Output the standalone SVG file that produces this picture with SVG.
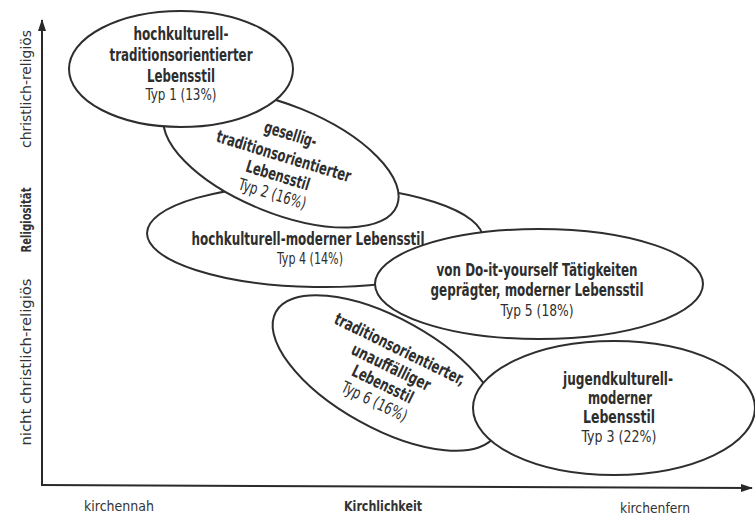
<svg xmlns="http://www.w3.org/2000/svg" width="755" height="517" viewBox="0 0 755 517">
<defs>
<marker id="arr" markerUnits="userSpaceOnUse" markerWidth="12" markerHeight="8" refX="11" refY="4" orient="auto">
<path d="M0,0 L12,4 L0,8 z" fill="#2a2a2a"/>
</marker>
<style>
.e{fill:#fff;stroke:#2e2e2e;stroke-width:2}
.t{font-family:"Liberation Sans Narrow","DejaVu Sans Condensed","Liberation Sans",Arial,sans-serif;fill:#2e2e2e;text-anchor:middle}
.b{font-weight:bold;font-size:17px}
.r{font-weight:normal;font-size:16.5px}
.ax{font-family:"Liberation Sans Narrow","DejaVu Sans Condensed","Liberation Sans",Arial,sans-serif;fill:#333;font-size:14px;text-anchor:middle}
.axl{fill:none;stroke:#2a2a2a;stroke-width:2}
</style>
</defs>
<rect width="755" height="517" fill="#fff"/>
<g id="connectors">
<path class="axl" d="M42,485 L42,20" marker-end="url(#arr)"/>
<path class="axl" d="M41,485 L752,488" marker-end="url(#arr)"/>
</g>
<g id="axis-labels">
<text class="ax" transform="translate(31,89) rotate(-90)" textLength="118" lengthAdjust="spacingAndGlyphs">christlich-religiös</text>
<text class="ax" transform="translate(31,220) rotate(-90)" font-weight="bold" textLength="65" lengthAdjust="spacingAndGlyphs">Religiosität</text>
<text class="ax" transform="translate(31,362) rotate(-90)" textLength="167" lengthAdjust="spacingAndGlyphs">nicht christlich-religiös</text>
<text class="ax" x="119" y="511" textLength="70" lengthAdjust="spacingAndGlyphs">kirchennah</text>
<text class="ax" x="383" y="511" font-weight="bold" textLength="78" lengthAdjust="spacingAndGlyphs">Kirchlichkeit</text>
<text class="ax" x="655" y="513" textLength="70" lengthAdjust="spacingAndGlyphs">kirchenfern</text>
</g>
<g id="typ6">
<ellipse class="e" cx="386" cy="373" rx="126" ry="55" transform="rotate(29 386 373)"/>
<g transform="translate(400,349) rotate(26)">
<text class="t b" x="0" y="6" textLength="143" lengthAdjust="spacingAndGlyphs">traditionsorientierter,</text>
<text class="t b" x="0" y="26" textLength="86" lengthAdjust="spacingAndGlyphs">unauffälliger</text>
<text class="t b" x="0" y="45" textLength="66" lengthAdjust="spacingAndGlyphs">Lebensstil</text>
<text class="t r" x="0" y="64" textLength="71" lengthAdjust="spacingAndGlyphs">Typ 6 (16%)</text>
</g>
</g>
<g id="typ4">
<ellipse class="e" cx="315" cy="236" rx="168" ry="51" transform="rotate(1 315 236)"/>
<text class="t b" x="308" y="245" textLength="233" lengthAdjust="spacingAndGlyphs">hochkulturell-moderner Lebensstil</text>
<text class="t r" x="310" y="264" textLength="66" lengthAdjust="spacingAndGlyphs">Typ 4 (14%)</text>
</g>
<g id="typ2">
<ellipse class="e" cx="281" cy="159" rx="125" ry="54" transform="rotate(22 281 159)"/>
<g transform="translate(290,136) rotate(17)">
<text class="t b" x="0" y="4" textLength="54" lengthAdjust="spacingAndGlyphs">gesellig-</text>
<text class="t b" x="0" y="27" textLength="140" lengthAdjust="spacingAndGlyphs">traditionsorientierter</text>
<text class="t b" x="0" y="47" textLength="66" lengthAdjust="spacingAndGlyphs">Lebensstil</text>
<text class="t r" x="0" y="66" textLength="70" lengthAdjust="spacingAndGlyphs">Typ 2 (16%)</text>
</g>
</g>
<g id="typ1">
<ellipse class="e" cx="181" cy="69" rx="112" ry="58"/>
<text class="t b" x="181" y="40" textLength="95" lengthAdjust="spacingAndGlyphs">hochkulturell-</text>
<text class="t b" x="181" y="61" textLength="143" lengthAdjust="spacingAndGlyphs">traditionsorientierter</text>
<text class="t b" x="181" y="82" textLength="68" lengthAdjust="spacingAndGlyphs">Lebensstil</text>
<text class="t r" x="181" y="100" textLength="71" lengthAdjust="spacingAndGlyphs">Typ 1 (13%)</text>
</g>
<g id="typ5">
<ellipse class="e" cx="539" cy="284" rx="164" ry="55"/>
<text class="t b" x="537" y="276" textLength="201" lengthAdjust="spacingAndGlyphs">von Do-it-yourself Tätigkeiten</text>
<text class="t b" x="537" y="296" textLength="213" lengthAdjust="spacingAndGlyphs">geprägter, moderner Lebensstil</text>
<text class="t r" x="537" y="316" textLength="73" lengthAdjust="spacingAndGlyphs">Typ 5 (18%)</text>
</g>
<g id="typ3">
<ellipse class="e" cx="614" cy="408" rx="141" ry="67"/>
<text class="t b" x="618" y="385" textLength="110" lengthAdjust="spacingAndGlyphs">jugendkulturell-</text>
<text class="t b" x="620" y="404" textLength="64" lengthAdjust="spacingAndGlyphs">moderner</text>
<text class="t b" x="619" y="423" textLength="72" lengthAdjust="spacingAndGlyphs">Lebensstil</text>
<text class="t r" x="619" y="442" textLength="75" lengthAdjust="spacingAndGlyphs">Typ 3 (22%)</text>
</g>
</svg>
